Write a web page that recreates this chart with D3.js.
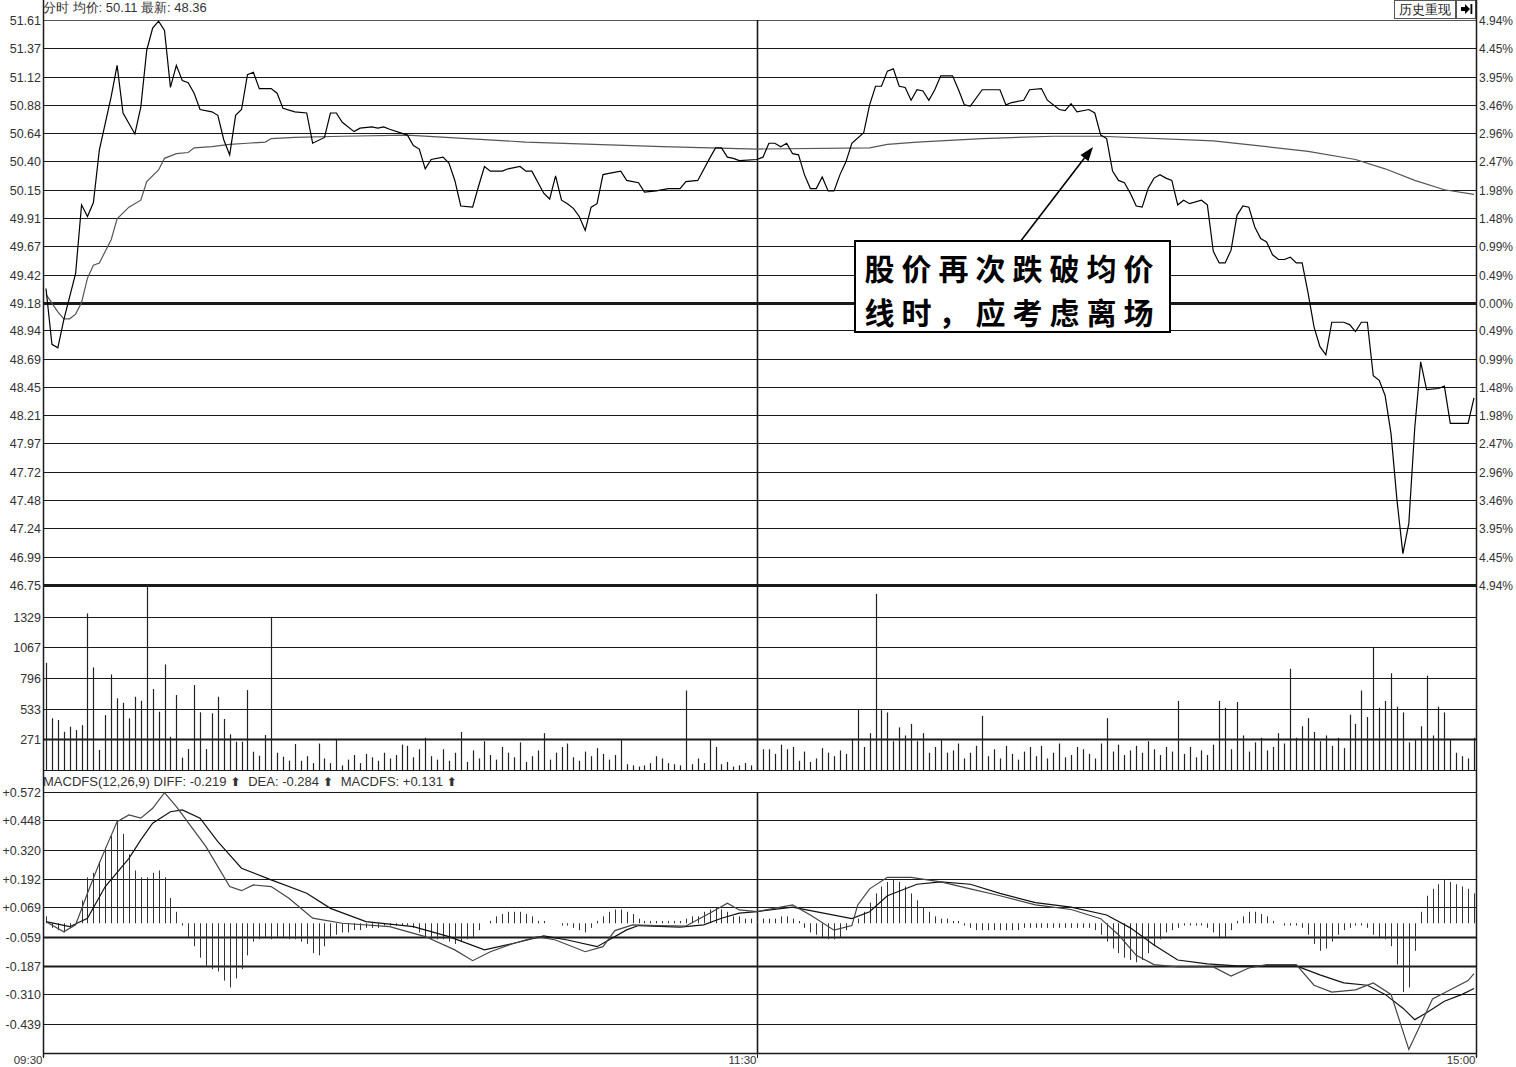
<!DOCTYPE html>
<html>
<head>
<meta charset="utf-8">
<script src="https://cdn.jsdelivr.net/npm/d3@7"></script>
<style>
  body { margin: 0; background: #fff; }
  svg text { font-family: Arial, "Liberation Sans", sans-serif; }
</style>
</head>
<body>
<div id="chart"></div>
<script>
// ---- data ----
// minute index: 0 = 09:30, 120 = 11:30, 121 = 13:00, 241 = 15:00
const priceTicks = [51.61, 51.37, 51.12, 50.88, 50.64, 50.40, 50.15, 49.91, 49.67, 49.42, 49.18,
  48.94, 48.69, 48.45, 48.21, 47.97, 47.72, 47.48, 47.24, 46.99, 46.75];
const pctTicks = ['4.94%', '4.45%', '3.95%', '3.46%', '2.96%', '2.47%', '1.98%', '1.48%', '0.99%', '0.49%', '0.00%',
  '0.49%', '0.99%', '1.48%', '1.98%', '2.47%', '2.96%', '3.46%', '3.95%', '4.45%', '4.94%'];
const volTicks = [1329, 1067, 796, 533, 271];
const macdTicks = [0.572, 0.448, 0.320, 0.192, 0.069, -0.059, -0.187, -0.310, -0.439];
const timeLabels = [[0, '09:30'], [120, '11:30'], [241, '15:00']];

// price line vertices [minute, price]
const pricePts = [
  [0,49.30],[1,48.82],[2,48.79],[3,49.03],[5,49.43],[6,50.02],[7,49.92],[8,50.04],[9,50.49],[11,50.95],
  [12,51.22],[13,50.81],[15,50.63],[16,50.86],[17,51.35],[18,51.54],[19,51.60],[20,51.52],[21,51.03],[22,51.22],
  [23,51.09],[24,51.07],[25,50.98],[26,50.84],[28,50.82],[29,50.79],[30,50.58],[31,50.45],[32,50.79],[33,50.84],
  [34,51.14],[35,51.16],[36,51.02],[38,51.02],[39,50.98],[40,50.85],[42,50.82],[44,50.81],[45,50.55],[47,50.60],
  [48,50.81],[49,50.81],[50,50.73],[52,50.65],[53,50.68],[55,50.69],[56,50.68],[57,50.69],[58,50.67],[61,50.62],
  [62,50.53],[63,50.50],[64,50.33],[65,50.41],[67,50.43],[68,50.38],[69,50.23],[70,50.01],[72,50.00],[73,50.18],
  [74,50.35],[75,50.31],[77,50.31],[78,50.33],[80,50.35],[81,50.31],[82,50.31],[84,50.12],[85,50.07],[86,50.27],
  [87,50.06],[88,50.03],[89,49.99],[90,49.92],[91,49.80],[92,50.00],[93,50.03],[94,50.28],[95,50.29],[97,50.31],
  [98,50.23],[100,50.21],[101,50.13],[103,50.14],[105,50.16],[107,50.16],[108,50.22],[110,50.23],[112,50.42],[113,50.51],
  [114,50.51],[115,50.43],[116,50.42],[117,50.40],[120,50.41],[121,50.43],[122,50.55],[123,50.55],[124,50.52],[125,50.55],
  [126,50.46],[127,50.45],[128,50.28],[129,50.16],[130,50.16],[131,50.26],[132,50.14],[133,50.14],[134,50.28],[135,50.39],
  [136,50.55],[138,50.64],[139,50.88],[140,51.04],[141,51.04],[142,51.17],[143,51.19],[144,51.04],[145,51.03],[146,50.92],
  [147,51.01],[148,51.00],[149,50.92],[150,51.01],[151,51.13],[153,51.13],[154,51.01],[155,50.88],[156,50.87],[158,51.01],
  [160,51.01],[161,51.01],[162,50.88],[163,50.90],[165,50.92],[166,51.01],[168,51.02],[169,50.92],[171,50.84],[172,50.83],
  [173,50.89],[174,50.82],[176,50.84],[177,50.81],[178,50.62],[179,50.59],[180,50.31],[181,50.23],[182,50.21],[183,50.12],
  [184,50.01],[185,50.00],[186,50.16],[187,50.25],[188,50.28],[189,50.25],[190,50.23],[191,50.02],[192,50.06],[193,50.03],
  [195,50.06],[196,50.02],[197,49.62],[198,49.52],[199,49.52],[200,49.63],[201,49.93],[202,50.01],[203,50.00],[204,49.83],
  [205,49.73],[206,49.70],[207,49.59],[208,49.55],[209,49.55],[210,49.57],[211,49.52],[212,49.52],[213,49.26],[214,48.97],
  [215,48.80],[216,48.73],[217,49.01],[219,49.01],[220,48.99],[221,48.93],[222,49.01],[223,49.01],[224,48.55],[225,48.51],
  [226,48.38],[227,48.05],[228,47.48],[229,47.02],[230,47.28],[231,48.10],[232,48.67],[233,48.43],[235,48.44],[236,48.46],
  [237,48.14],[239,48.14],[240,48.14],[241,48.36]
];

// average price line vertices [minute, price]
const avgPts = [
  [0,49.25],[2,49.10],[3,49.04],[4,49.04],[5,49.08],[6,49.18],[7,49.39],[8,49.50],[9,49.52],[11,49.72],
  [12,49.90],[14,50.00],[16,50.06],[17,50.22],[19,50.32],[20,50.42],[22,50.46],[24,50.47],[25,50.51],[28,50.52],
  [31,50.54],[34,50.55],[37,50.56],[38,50.59],[42,50.60],[50,50.61],[61,50.62],[81,50.56],[104,50.52],[120,50.50],
  [139,50.51],[142,50.54],[147,50.56],[158,50.59],[170,50.61],[178,50.61],[197,50.57],[206,50.52],[213,50.48],[221,50.41],
  [226,50.33],[231,50.23],[236,50.15],[241,50.11]
];

// volume per minute, morning (0..120) and afternoon (121..241)
const volumeAM = [
  931,449,434,332,376,347,390,1360,891,174,
  477,830,622,584,449,636,601,1610,703,506,
  917,289,651,107,182,738,501,182,492,636,
  443,310,246,246,694,159,124,304,1330,150,
  115,81,226,80,120,60,230,100,60,270,
  40,90,130,60,140,110,80,150,100,130,
  220,210,110,180,280,120,90,180,80,150,
  330,70,170,100,250,130,90,200,150,110,
  240,70,120,170,320,90,150,200,230,110,
  80,160,120,190,140,90,130,260,50,40,
  30,40,60,120,100,60,50,40,690,50,
  100,60,260,200,50,70,30,40,60,40,
  240
];
const volumePM = [
  180,
  180,140,220,180,200,80,160,70,100,190,
  150,120,170,140,270,530,200,320,1530,520,
  500,250,370,300,400,250,320,150,200,260,
  150,170,230,100,150,210,470,120,180,100,
  210,140,90,160,200,120,210,100,150,230,
  110,130,200,180,140,100,230,450,160,220,
  130,170,210,150,250,180,130,200,160,600,
  140,200,110,170,130,220,600,540,180,590,
  300,160,240,280,170,200,320,230,880,280,
  380,450,330,250,300,210,280,190,480,400,
  690,460,1070,540,600,840,550,500,240,260,
  380,820,300,550,500,260,150,120,100,280
];

// MACD histogram per minute
const macdBarsAM = [
  0.03,-0.02,-0.03,-0.04,-0.02,0.01,0.10,0.20,0.22,0.27,
  0.33,0.38,0.44,0.39,0.30,0.23,0.20,0.20,0.22,0.23,
  0.20,0.11,0.05,-0.01,-0.06,-0.10,-0.15,-0.19,-0.20,-0.21,
  -0.25,-0.28,-0.24,-0.20,-0.14,-0.08,-0.07,-0.06,-0.07,-0.06,
  -0.06,-0.07,-0.07,-0.08,-0.09,-0.13,-0.14,-0.10,-0.06,-0.05,
  -0.04,-0.04,-0.03,-0.03,-0.02,-0.02,-0.02,-0.01,-0.01,-0.01,
  -0.01,-0.01,-0.02,-0.04,-0.06,-0.07,-0.07,-0.07,-0.08,-0.09,
  -0.08,-0.07,-0.06,-0.03,0.0,0.01,0.03,0.04,0.05,0.05,
  0.05,0.04,0.03,0.01,0.01,0.0,0.0,-0.01,-0.01,-0.02,
  -0.03,-0.04,-0.02,0.01,0.03,0.05,0.06,0.06,0.05,0.04,
  0.02,0.01,0.01,0.01,0.01,0.01,0.01,0.01,0.02,0.03,
  0.03,0.05,0.06,0.07,0.06,0.05,0.03,0.03,0.02,0.02,
  0.01
];
const macdBarsPM = [
  0.02,
  0.02,0.02,0.03,0.03,0.02,0.01,-0.02,-0.04,-0.05,-0.06,
  -0.07,-0.07,-0.06,-0.03,0.0,0.02,0.05,0.09,0.13,0.16,
  0.18,0.19,0.18,0.16,0.13,0.10,0.07,0.05,0.03,0.02,
  0.02,0.01,0.01,-0.01,-0.02,-0.03,-0.03,-0.03,-0.03,-0.03,
  -0.03,-0.03,-0.03,-0.02,-0.02,-0.02,-0.02,-0.02,-0.02,-0.02,
  -0.02,-0.02,-0.02,-0.02,-0.02,-0.03,-0.05,-0.08,-0.11,-0.13,
  -0.15,-0.16,-0.17,-0.16,-0.13,-0.10,-0.07,-0.04,-0.03,-0.02,
  -0.01,-0.01,-0.01,-0.01,-0.02,-0.04,-0.06,-0.06,-0.03,0.01,
  0.03,0.05,0.05,0.04,0.03,0.01,0.0,-0.01,-0.01,-0.01,
  -0.02,-0.05,-0.09,-0.12,-0.11,-0.08,-0.05,-0.03,-0.02,-0.01,
  -0.01,-0.02,-0.05,-0.06,-0.07,-0.10,-0.18,-0.30,-0.28,-0.12,
  0.05,0.12,0.15,0.17,0.19,0.18,0.17,0.16,0.15,0.13
];

// DIFF and DEA line vertices [minute, value]
const diffPts = [
  [0,0.007],[3,-0.037],[5,-0.007],[7,0.131],[9,0.262],[12,0.443],[14,0.472],[16,0.458],[18,0.501],[20,0.569],
  [22,0.508],[27,0.334],[31,0.160],[33,0.142],[35,0.167],[38,0.160],[41,0.109],[45,0.022],[50,0.0],[58,-0.015],
  [64,-0.058],[69,-0.116],[72,-0.163],[75,-0.124],[79,-0.087],[83,-0.058],[86,-0.073],[91,-0.124],[94,-0.102],[96,-0.032],
  [99,-0.007],[103,-0.010],[108,-0.012],[112,0.044],[115,0.087],[117,0.058],[120,0.051],
  [126,0.08],[129,0.036],[133,-0.03],[136,-0.01],[137,0.08],[139,0.15],[142,0.20],[146,0.20],[151,0.18],
  [156,0.15],[161,0.12],[167,0.08],[173,0.06],[178,0.02],[181,-0.05],[184,-0.14],[187,-0.18],[191,-0.19],[197,-0.19],
  [200,-0.23],[203,-0.195],[206,-0.18],[211,-0.18],[214,-0.27],[217,-0.30],[221,-0.29],[224,-0.26],[227,-0.31],[229,-0.47],
  [230,-0.55],[232,-0.44],[234,-0.33],[237,-0.29],[240,-0.25],[241,-0.219]
];
const deaPts = [
  [0,0.007],[4,-0.015],[7,0.022],[10,0.160],[14,0.283],[16,0.363],[18,0.436],[21,0.486],[23,0.494],[26,0.458],
  [29,0.356],[33,0.240],[38,0.189],[44,0.131],[48,0.065],[54,0.007],[62,-0.015],[68,-0.058],[74,-0.116],[79,-0.087],
  [84,-0.055],[88,-0.073],[93,-0.102],[98,-0.029],[100,-0.010],[107,-0.017],[111,-0.007],[114,0.022],[117,0.044],[120,0.051],
  [126,0.07],[131,0.045],[136,0.02],[139,0.05],[142,0.12],[147,0.17],[151,0.18],[156,0.17],[161,0.13],[167,0.09],
  [173,0.07],[179,0.036],[183,-0.02],[187,-0.095],[191,-0.16],[196,-0.177],[201,-0.186],[206,-0.186],[211,-0.186],[215,-0.225],
  [219,-0.26],[223,-0.27],[226,-0.31],[229,-0.37],[231,-0.42],[233,-0.39],[236,-0.34],[239,-0.31],[241,-0.284]
];

const headerText = '分时 均价: 50.11 最新: 48.36';
const macdHeader = ['MACDFS(12,26,9) DIFF: -0.219', 'DEA: -0.284', 'MACDFS: +0.131'];
const noteLines = ['股价再次跌破均价', '线时，应考虑离场'];

// ---- layout ----
const W = 1516, H = 1067;
const L = 43, R = 1476;
const P = { top: 20, bottom: 585 };        // price panel
const V = { top: 585, bottom: 770 };       // volume panel
const M = { top: 792, bottom: 1053 };      // macd panel

const x = d3.scaleLinear().domain([0, 241]).range([46, 1474]);
const yP = d3.scaleLinear().domain([46.75, 51.61]).range([P.bottom, P.top]);
const yV = d3.scaleLinear().domain([0, 1329]).range([V.bottom, 617]);
const yM = d3.scaleLinear().domain([-0.439, 0.572]).range([1024, 792]);

const svg = d3.select('#chart').append('svg')
  .attr('width', W).attr('height', H)
  .style('display', 'block');

const defs = svg.append('defs');
defs.append('clipPath').attr('id', 'clipP').append('rect')
  .attr('x', L).attr('y', P.top - 1).attr('width', R - L).attr('height', P.bottom - P.top + 2);
defs.append('clipPath').attr('id', 'clipM').append('rect')
  .attr('x', L).attr('y', M.top - 2).attr('width', R - L).attr('height', M.bottom - M.top + 2);

const ink = '#1a1a1a';
const labelColor = '#333';
const fs = 12.5;

// header texts
svg.append('text').attr('x', L).attr('y', 12).attr('font-size', 13).attr('fill', labelColor).text(headerText);

// history button
const btn = svg.append('g');
btn.append('rect').attr('x', 1394.5).attr('y', 0.5).attr('width', 61).attr('height', 18)
  .attr('fill', '#fff').attr('stroke', '#555');
btn.append('text').attr('x', 1425).attr('y', 14).attr('text-anchor', 'middle')
  .attr('font-size', 13).attr('fill', '#222').text('历史重现');
btn.append('rect').attr('x', 1456.5).attr('y', 0.5).attr('width', 19).attr('height', 18)
  .attr('fill', '#fff').attr('stroke', '#555');
btn.append('path').attr('d', 'M1461,7 h4 v-3 l5,5 l-5,5 v-3 h-4 z').attr('fill', '#000');
btn.append('rect').attr('x', 1470.5).attr('y', 4).attr('width', 1.8).attr('height', 10).attr('fill', '#000');

// price grid + labels
const gP = svg.append('g');
priceTicks.forEach((t, i) => {
  const y = Math.round(yP(t)) + 0.5;
  const thick = (i === 10 || i === 20);
  gP.append('line').attr('x1', L).attr('x2', R).attr('y1', y).attr('y2', y)
    .attr('stroke', i === 0 ? '#555' : ink).attr('stroke-width', thick ? 3 : 1);
  gP.append('text').attr('x', 41).attr('y', y).attr('dy', '0.35em').attr('text-anchor', 'end')
    .attr('font-size', fs).attr('fill', labelColor).text(t.toFixed(2));
  gP.append('text').attr('x', 1479).attr('y', y).attr('dy', '0.35em')
    .attr('font-size', 12).attr('fill', labelColor).text(pctTicks[i]);
});

// volume grid + labels
const gV = svg.append('g');
volTicks.forEach(t => {
  const y = Math.round(yV(t)) + 0.5;
  gV.append('line').attr('x1', L).attr('x2', R).attr('y1', y).attr('y2', y)
    .attr('stroke', ink).attr('stroke-width', t === 271 ? 2 : 1);
  gV.append('text').attr('x', 41).attr('y', y).attr('dy', '0.35em').attr('text-anchor', 'end')
    .attr('font-size', fs).attr('fill', labelColor).text(t);
});
gV.append('line').attr('x1', L).attr('x2', R).attr('y1', V.bottom + 0.5).attr('y2', V.bottom + 0.5)
  .attr('stroke', ink).attr('stroke-width', 1);

// macd grid + labels
const gM = svg.append('g');
macdTicks.forEach(t => {
  const y = Math.round(yM(t)) + 0.5;
  const thick = (t === -0.059 || t === -0.187);
  gM.append('line').attr('x1', L).attr('x2', R).attr('y1', y).attr('y2', y)
    .attr('stroke', ink).attr('stroke-width', thick ? 2 : 1);
  gM.append('text').attr('x', 41).attr('y', y).attr('dy', '0.35em').attr('text-anchor', 'end')
    .attr('font-size', fs).attr('fill', labelColor)
    .text((t >= 0 ? '+' : '-') + Math.abs(t).toFixed(3));
});

// macd header with arrows
const mh = svg.append('text').attr('x', L).attr('y', 786).attr('font-size', 13).attr('fill', labelColor);
macdHeader.forEach((s, i) => {
  mh.append('tspan').attr('dx', i === 0 ? 0 : 8).text(s + ' ');
  mh.append('tspan').attr('font-weight', 'bold').style('font-family', '"DejaVu Sans", sans-serif')
    .attr('font-size', 12).text('⬆');
});

// frame: left / right axes, bottom axis, 11:30 divider
svg.append('line').attr('x1', L + 0.5).attr('x2', L + 0.5).attr('y1', 0).attr('y2', M.bottom + 4)
  .attr('stroke', ink).attr('stroke-width', 1.5);
svg.append('line').attr('x1', R + 0.5).attr('x2', R + 0.5).attr('y1', 0).attr('y2', M.bottom + 4)
  .attr('stroke', ink).attr('stroke-width', 1.5);
svg.append('line').attr('x1', L).attr('x2', R).attr('y1', M.bottom + 0.5).attr('y2', M.bottom + 0.5)
  .attr('stroke', ink).attr('stroke-width', 1.5);
const xMid = Math.round(x(120)) + 0.5;
[[P.top, V.bottom], [M.top, M.bottom]].forEach(([a, b]) => {
  svg.append('line').attr('x1', xMid).attr('x2', xMid).attr('y1', a).attr('y2', b)
    .attr('stroke', ink).attr('stroke-width', 1.6);
});

// time labels + ticks
timeLabels.forEach(([m, s]) => {
  const tx = m === 0 ? L + 0.5 : (m === 241 ? R + 0.5 : xMid);
  svg.append('line').attr('x1', tx).attr('x2', tx).attr('y1', M.bottom).attr('y2', M.bottom + 5)
    .attr('stroke', ink);
  svg.append('text').attr('x', tx - 1).attr('y', 1064).attr('text-anchor', 'end')
    .attr('font-size', 11.5).attr('fill', labelColor).text(s);
});

// volume bars
const volume = volumeAM.concat(volumePM);
svg.append('g').selectAll('line').data(volume).join('line')
  .attr('x1', (d, i) => Math.round(x(i)) + 0.5)
  .attr('x2', (d, i) => Math.round(x(i)) + 0.5)
  .attr('y1', yV(0))
  .attr('y2', d => Math.max(V.top, yV(d)))
  .attr('stroke', '#222').attr('stroke-width', 1.2);

// macd histogram
const macdBars = macdBarsAM.concat(macdBarsPM);
svg.append('g').attr('clip-path', 'url(#clipM)').selectAll('line').data(macdBars).join('line')
  .attr('x1', (d, i) => Math.round(x(i)) + 0.5)
  .attr('x2', (d, i) => Math.round(x(i)) + 0.5)
  .attr('y1', yM(0))
  .attr('y2', d => yM(d))
  .attr('stroke', '#333').attr('stroke-width', 1);

// lines
const lineP = d3.line().x(d => x(d[0])).y(d => yP(d[1]));
const lineM = d3.line().x(d => x(d[0])).y(d => yM(d[1]));

svg.append('path').datum(avgPts).attr('clip-path', 'url(#clipP)')
  .attr('d', lineP).attr('fill', 'none').attr('stroke', '#555').attr('stroke-width', 1.2);
svg.append('path').datum(pricePts).attr('clip-path', 'url(#clipP)')
  .attr('d', lineP).attr('fill', 'none').attr('stroke', '#000').attr('stroke-width', 1.2);

svg.append('path').datum(deaPts).attr('clip-path', 'url(#clipM)')
  .attr('d', lineM).attr('fill', 'none').attr('stroke', '#111').attr('stroke-width', 1.2);
svg.append('path').datum(diffPts).attr('clip-path', 'url(#clipM)')
  .attr('d', lineM).attr('fill', 'none').attr('stroke', '#444').attr('stroke-width', 1.2);

// annotation arrow + box
const ax1 = 1020, ay1 = 242, ax2 = 1093, ay2 = 147;
const ang = Math.atan2(ay2 - ay1, ax2 - ax1);
const head = 14, wing = 5;
const bx = ax2 - head * Math.cos(ang), by = ay2 - head * Math.sin(ang);
svg.append('line').attr('x1', ax1).attr('y1', ay1).attr('x2', bx).attr('y2', by)
  .attr('stroke', '#000').attr('stroke-width', 1.6);
svg.append('path')
  .attr('d', `M${ax2},${ay2} L${bx + wing * Math.sin(ang)},${by - wing * Math.cos(ang)} L${bx - wing * Math.sin(ang)},${by + wing * Math.cos(ang)} Z`)
  .attr('fill', '#000');

svg.append('rect').attr('x', 855).attr('y', 241).attr('width', 315).attr('height', 91)
  .attr('fill', '#fff').attr('stroke', '#000').attr('stroke-width', 2);
noteLines.forEach((s, i) => {
  svg.append('text').attr('x', 1012.5).attr('y', 280 + i * 43.5)
    .attr('text-anchor', 'middle').attr('font-size', 30).attr('letter-spacing', 7)
    .style('font-family', '"Noto Sans CJK SC", "Noto Sans CJK JP", sans-serif')
    .attr('font-weight', 700).attr('fill', '#000').text(s);
});
</script>
</body>
</html>
